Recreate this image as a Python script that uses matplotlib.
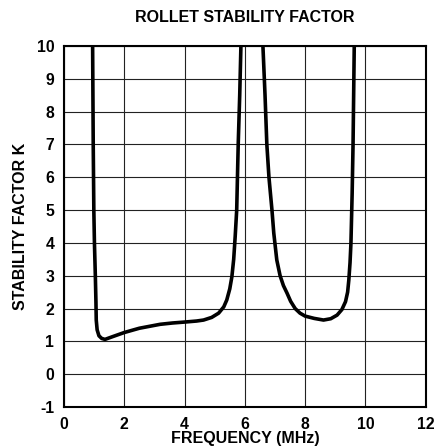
import matplotlib
matplotlib.use("Agg")
import matplotlib.pyplot as plt

# branch below the first resonance (MHz, K)
freq_a = [0.95, 0.97, 0.99, 1.01, 1.04, 1.06, 1.07, 1.1, 1.16, 1.25, 1.36, 1.6,
          2.0, 2.5, 3.19, 3.6, 4.02, 4.4, 4.63, 4.9, 5.13, 5.3, 5.4, 5.5, 5.57,
          5.63, 5.68, 5.73, 5.78, 5.83, 5.87]
k_a = [10, 7, 5, 4, 3, 2.2, 1.65, 1.35, 1.17, 1.09, 1.06, 1.14,
       1.27, 1.4, 1.52, 1.56, 1.59, 1.62, 1.65, 1.73, 1.86, 2.05, 2.26, 2.6, 2.97,
       3.5, 4.2, 5, 7, 8.5, 10]

# branch between the two resonances
freq_b = [6.6, 6.67, 6.73, 6.8, 6.9, 6.96, 7.06, 7.17, 7.28, 7.4, 7.52, 7.67, 7.83,
          8.0, 8.3, 8.61, 8.85, 9.06, 9.22, 9.34, 9.41, 9.45, 9.49, 9.52, 9.56,
          9.59, 9.63]
k_b = [10, 8.5, 7, 6, 5, 4.3, 3.48, 3.0, 2.7, 2.47, 2.22, 2.0, 1.86,
       1.77, 1.7, 1.65, 1.69, 1.8, 1.97, 2.21, 2.5, 2.87, 3.4, 3.99, 5.5,
       7, 10]

xticks = [0, 2, 4, 6, 8, 10, 12]
yticks = list(range(-1, 11))

plt.rcParams['font.family'] = ['Liberation Sans', 'DejaVu Sans']
plt.rcParams['font.weight'] = 'bold'
plt.rcParams['axes.unicode_minus'] = False

fig = plt.figure(figsize=(4.45, 4.48), dpi=100)
ax = fig.add_axes([0.1438, 0.0915, 0.8128, 0.8058])

for fx, fk in [(freq_a, k_a), (freq_b, k_b)]:
    ax.plot(fx, fk, color='black', lw=2.6, solid_joinstyle='round',
            solid_capstyle='butt')

ax.set_xlim(0, 12)
ax.set_ylim(-1, 10)
ax.set_xticks(xticks)
ax.set_yticks(yticks)
ax.grid(True, color='#222222', lw=0.8)
ax.set_axisbelow(True)
ax.tick_params(length=0, labelsize=11.3, pad=7)
for s in ax.spines.values():
    s.set_linewidth(1.5)

ax.set_xlabel('FREQUENCY (MHz)', fontsize=11.5, fontweight='bold', labelpad=-0.5)
ax.set_ylabel('STABILITY FACTOR K', fontsize=11.5, fontweight='bold', labelpad=6)
ax.set_title('ROLLET STABILITY FACTOR', fontsize=11.5, fontweight='bold', pad=17)

fig.savefig('out.png', dpi=100)
